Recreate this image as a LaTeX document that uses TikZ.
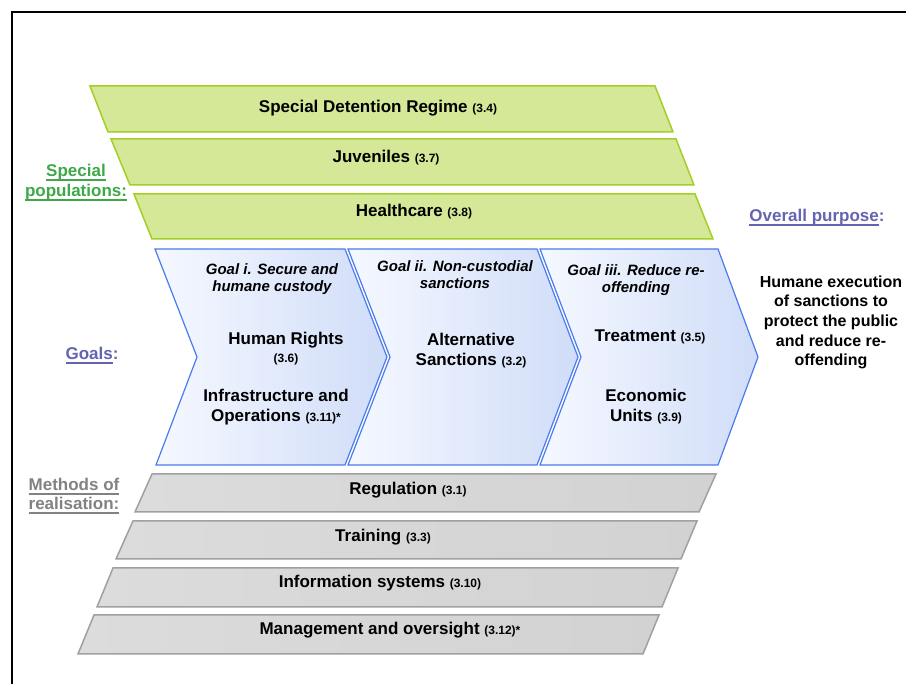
\documentclass[tikz,border=0pt]{standalone}
\usepackage{fontspec}
\setmainfont{Liberation Sans}
\definecolor{bandgreen}{HTML}{D4E897}
\definecolor{bandgreenline}{HTML}{A2CF28}
\definecolor{bandgrayL}{HTML}{DCDCDC}
\definecolor{bandgrayR}{HTML}{D2D2D2}
\definecolor{bandgrayline}{HTML}{A0A0A0}
\definecolor{chevL}{HTML}{F5F8FF}
\definecolor{chevR}{HTML}{D0DDF8}
\definecolor{chevline}{HTML}{4A7BEE}
\definecolor{lblgreen}{HTML}{3FA94A}
\definecolor{lblpurple}{HTML}{6464B2}
\definecolor{lblgray}{HTML}{828282}
\newcommand\mysm[1]{{\fontsize{12}{14}\selectfont #1}}
\newcommand\myul[1]{\setbox0\hbox{#1}\rlap{\rule[-4pt]{\wd0}{1.5pt}}\box0}
\begin{document}
\begin{tikzpicture}[x=1pt,y=-1pt,
  greenband/.style={draw=bandgreenline, line width=1.5pt, fill=bandgreen, line join=miter},
  grayband/.style={draw=bandgrayline, line width=1.5pt, left color=bandgrayL, right color=bandgrayR},
  chev/.style={draw=chevline, line width=1.2pt, left color=chevL, right color=chevR},
  lbl/.style={font=\fontsize{17}{20.5}\selectfont\bfseries, inner sep=0pt, anchor=base, align=center},
  goalhead/.style={font=\fontsize{15}{17.5}\selectfont\bfseries\itshape, inner sep=0pt, anchor=base, align=center},
  purpose/.style={font=\fontsize{16}{19.7}\selectfont\bfseries, inner sep=0pt, anchor=base, align=center},
  sidelbl/.style={font=\fontsize{17}{20}\selectfont\bfseries, inner sep=0pt, anchor=base, align=center}
]
\useasboundingbox (0,0) rectangle (906,684);
\fill[white] (0,0) rectangle (906,684);
% frame
\draw[line width=1.1pt] (12,684) -- (12,12) -- (906,12);

% special populations bands
\draw[greenband] (90,86) -- (655,86) -- (673,132) -- (108,132) -- cycle;
\draw[greenband] (111,139) -- (676,139) -- (694,185) -- (130,185) -- cycle;
\draw[greenband] (134,194) -- (695,194) -- (713,239) -- (152,239) -- cycle;
\node[lbl] (sdr) at (378,113) {Special Detention Regime \mysm{(3.4)}};
\node[lbl] (juv) at (386,163) {Juveniles \mysm{(3.7)}};
\node[lbl] (hc) at (414,217) {Healthcare \mysm{(3.8)}};

% goal chevrons
\draw[chev] (155,249) -- (345,249) -- (387,357) -- (345,465) -- (156,465) -- (197,357) -- cycle;
\draw[chev] (348,249) -- (537,249) -- (578,357) -- (537,465) -- (348,465) -- (390,357) -- cycle;
\draw[chev] (540,249) -- (718,249) -- (758,357) -- (718,465) -- (540,465) -- (581,357) -- cycle;

% multi-line nodes: base anchor = baseline of the last line
\node[goalhead] (g1) at (272,292) {Goal i. Secure and\\humane custody};
\node[lbl] (hr) at (286,345) {Human Rights};
\node[lbl] (hrn) at (286,363) {\mysm{(3.6)}};
\node[lbl] (inf) at (276,422) {Infrastructure and\\Operations \mysm{(3.11)*}};

\node[goalhead] (g2) at (455,289) {Goal ii. Non-custodial\\sanctions};
\node[lbl] (alt) at (471,366) {Alternative\\Sanctions \mysm{(3.2)}};

\node[goalhead] (g3) at (636,293) {Goal iii. Reduce re-\\offending};
\node[lbl] (tr) at (650,342) {Treatment \mysm{(3.5)}};
\node[lbl] (eco) at (646,422) {Economic\\Units \mysm{(3.9)}};

% methods bands
\draw[grayband] (152,474) -- (716,474) -- (699,512) -- (135,512) -- cycle;
\draw[grayband] (133,521) -- (697,521) -- (681,559) -- (116,559) -- cycle;
\draw[grayband] (113,568) -- (678,568) -- (662,607) -- (97,607) -- cycle;
\draw[grayband] (94,615) -- (659,615) -- (643,654) -- (78,654) -- cycle;
\node[lbl] (reg) at (408,495) {Regulation \mysm{(3.1)}};
\node[lbl] (trn) at (383,542) {Training \mysm{(3.3)}};
\node[lbl] (info) at (380,588) {Information systems \mysm{(3.10)}};
\node[lbl] (mgmt) at (390,635) {Management and oversight \mysm{(3.12)*}};

% side labels
\node[sidelbl, text=lblgreen] (sp) at (76,197) {\myul{Special}\\\myul{populations:}};
\node[sidelbl, text=lblpurple] (gl) at (92,360) {\myul{Goals}:};
\node[sidelbl, text=lblgray, font=\fontsize{17}{19}\selectfont\bfseries] (mr) at (74,510) {\myul{Methods of}\\\myul{realisation:}};
\node[sidelbl, text=lblpurple] (op) at (817,222) {\myul{Overall purpose}:};

% overall purpose text
\node[purpose] (hum) at (831,366) {Humane execution\\of sanctions to\\protect the public\\and reduce re-\\offending};
\end{tikzpicture}
\end{document}
